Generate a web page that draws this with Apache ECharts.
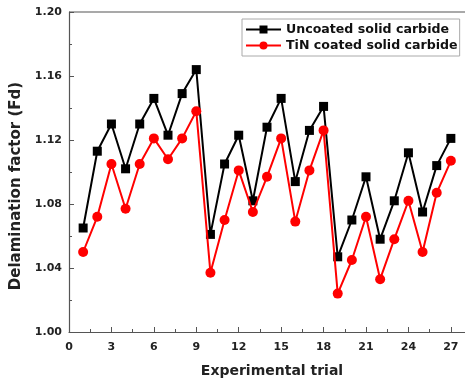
<!DOCTYPE html>
<html>
<head>
<meta charset="utf-8">
<script src="https://cdn.jsdelivr.net/npm/echarts@6/dist/echarts.min.js"></script>
<style>
  html, body { margin: 0; padding: 0; background: #fff; }
  #chart { width: 465px; height: 385px; }
</style>
</head>
<body>
<div id="chart"></div>
<script>
// data
const trials = [1, 2, 3, 4, 5, 6, 7, 8, 9, 10, 11, 12, 13, 14, 15, 16, 17, 18, 19, 20, 21, 22, 23, 24, 25, 26, 27]
const uncoated = [1.065, 1.113, 1.130, 1.102, 1.130, 1.146, 1.123, 1.149, 1.164,
  1.061, 1.105, 1.123, 1.082, 1.128, 1.146, 1.094, 1.126, 1.141,
  1.047, 1.070, 1.097, 1.058, 1.082, 1.112, 1.075, 1.104, 1.121]
const tinCoated = [1.050, 1.072, 1.105, 1.077, 1.105, 1.121, 1.108, 1.121, 1.138,
  1.037, 1.070, 1.101, 1.075, 1.097, 1.121, 1.069, 1.101, 1.126,
  1.024, 1.045, 1.072, 1.033, 1.058, 1.082, 1.050, 1.087, 1.107]
const seriesNames = ['Uncoated solid carbide', 'TiN coated solid carbide']

const chart = echarts.init(document.getElementById('chart'))

const axisCol = '#555'
// 参考图的字体横向偏宽, 用 DejaVu Sans Bold 比较接近
const fontBold = { fontFamily: 'DejaVu Sans', fontWeight: 'bold', color: '#222' }

const pairs = arr => arr.map((v, i) => [trials[i], v])

chart.setOption({
  animation: false,
  grid: { left: 69, right: -6, top: 12, bottom: 53 },
  legend: {
    left: 242,
    top: 19,
    orient: 'vertical',
    itemWidth: 35,
    itemHeight: 10,
    itemGap: 3,
    padding: [4, 2, 4, 3],
    borderColor: '#aaa',
    borderWidth: 1,
    textStyle: { ...fontBold, fontSize: 12.6, color: '#111' },
    data: seriesNames
  },
  xAxis: {
    type: 'value',
    min: 0,
    max: 28,
    interval: 3,
    name: 'Experimental trial',
    nameLocation: 'middle',
    nameGap: 32,
    nameTextStyle: { ...fontBold, fontSize: 14, padding: [0, 0, 0, 10] },
    axisLine: { lineStyle: { color: axisCol, width: 1.2 } },
    axisTick: { inside: true, length: 5, lineStyle: { color: axisCol } },
    minorTick: { show: true, splitNumber: 2, length: 3, lineStyle: { color: axisCol } },
    axisLabel: { ...fontBold, fontSize: 11, margin: 10, showMaxLabel: false },
    splitLine: { show: false }
  },
  yAxis: {
    type: 'value',
    min: 1.0,
    max: 1.2,
    interval: 0.04,
    name: 'Delamination factor (Fd)',
    nameLocation: 'middle',
    nameGap: 43,
    nameTextStyle: { ...fontBold, fontSize: 15, padding: [0, 28, 0, 0] },
    axisLine: { show: true, lineStyle: { color: axisCol, width: 1.2 } },
    axisTick: { inside: true, length: 5, lineStyle: { color: axisCol } },
    minorTick: { show: true, splitNumber: 2, length: 3, lineStyle: { color: axisCol } },
    axisLabel: { ...fontBold, fontSize: 11, margin: 7, formatter: v => v.toFixed(2) },
    splitLine: { show: false }
  },
  series: [
    {
      name: seriesNames[0],
      type: 'line',
      data: pairs(uncoated),
      symbol: 'rect',
      symbolSize: 9,
      lineStyle: { color: '#000', width: 2 },
      itemStyle: { color: '#000' },
      z: 2
    },
    {
      name: seriesNames[1],
      type: 'line',
      data: pairs(tinCoated),
      symbol: 'circle',
      symbolSize: 10,
      lineStyle: { color: '#f00', width: 2 },
      itemStyle: { color: '#f00' },
      z: 3
    }
  ]
})

// 上边框
chart.setOption({
  graphic: [{
    type: 'line',
    shape: { x1: 69, y1: 12, x2: 465, y2: 12 },
    style: { stroke: axisCol, lineWidth: 1.2 }
  }]
})
</script>
</body>
</html>
